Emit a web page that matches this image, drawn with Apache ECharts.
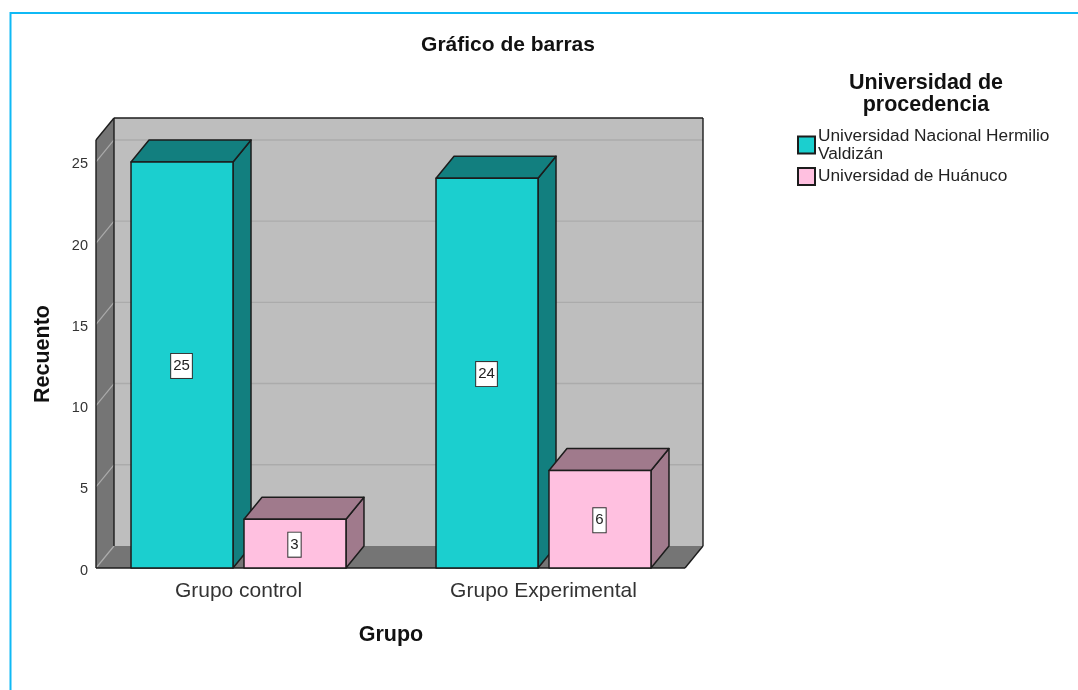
<!DOCTYPE html>
<html><head><meta charset="utf-8">
<style>html,body{margin:0;padding:0;background:#fff}#c{width:1078px;height:690px;filter:blur(0.4px)}</style>
<script src="https://cdn.jsdelivr.net/npm/echarts@6/dist/echarts.min.js"></script>
</head><body><div id="c"></div>
<script>
const categories = ['Grupo control', 'Grupo Experimental'];
const seriesNames = ['Universidad Nacional Hermilio\nValdizán', 'Universidad de Huánuco'];
const valuesUNHEVAL = [25, 24];
const valuesHuanuco = [3, 6];
const yTicks = [5, 10, 15, 20, 25];
const yMax = 26.35;

const FONT = '"Liberation Sans", Arial, sans-serif';
const DX = 18, DY = -22;
const INK = '#1c1c1c';
const chart = echarts.init(document.getElementById('c'), null, {renderer: 'canvas'});

function poly(points, fill, z2) {
  return {type: 'polygon', z2: z2 || 0, shape: {points},
    style: {fill, stroke: null}};
}
function seg(a, b, stroke, lineWidth, z2) {
  return {type: 'line', z2: z2 || 1, shape: {x1: a[0], y1: a[1], x2: b[0], y2: b[1]},
    style: {stroke, lineWidth: lineWidth || 1.4}};
}

function renderWalls(params, api) {
  if (params.dataIndex !== 0) return null;
  const cs = params.coordSys;
  const l = cs.x + 10, r = cs.x + cs.width - 11;
  const b = api.coord([0, 0])[1], t = api.coord([0, yMax])[1];
  const kids = [
    poly([[l + DX, t + DY], [r + DX, t + DY], [r + DX, b + DY], [l + DX, b + DY]], '#bebebe'),
    poly([[l, t], [l + DX, t + DY], [l + DX, b + DY], [l, b]], '#757575'),
    poly([[l, b], [r, b], [r + DX, b + DY], [l + DX, b + DY]], '#757575')
  ];
  yTicks.forEach(v => {
    const y = api.coord([0, v])[1];
    kids.push(seg([l + DX, y + DY], [r + DX, y + DY], '#ababab', 1.4));
    kids.push(seg([l, y], [l + DX, y + DY], '#ababab', 1.2));
  });
  kids.push(seg([l, b], [l + DX, b + DY], '#ababab', 1.2));
  [
    [[l, b], [l, t]], [[l, t], [l + DX, t + DY]], [[l + DX, t + DY], [r + DX, t + DY]],
    [[l + DX, t + DY], [l + DX, b + DY]], [[r + DX, t + DY], [r + DX, b + DY]],
    [[r + DX, b + DY], [r, b]], [[r, b], [l, b]]
  ].forEach(p => kids.push(seg(p[0], p[1], INK, 1.4, 2)));
  return {type: 'group', children: kids};
}

function makeBar(front, top, side, offset) {
  return function (params, api) {
    const cat = api.value(0), val = api.value(1);
    const base = api.coord([cat, 0]);
    const head = api.coord([cat, val]);
    const band = api.size([1, 0])[0];
    const w = band * 0.3344;
    const cx = base[0] + band * offset;
    const x0 = cx - w / 2, x1 = cx + w / 2, y0 = base[1], y1 = head[1];
    const stroke = {stroke: INK, lineWidth: 1.5, lineJoin: 'round'};
    return {type: 'group', children: [
      {type: 'polygon', shape: {points: [[x1, y1], [x1 + DX, y1 + DY], [x1 + DX, y0 + DY], [x1, y0]]},
        style: Object.assign({fill: side}, stroke)},
      {type: 'polygon', shape: {points: [[x0, y1], [x0 + DX, y1 + DY], [x1 + DX, y1 + DY], [x1, y1]]},
        style: Object.assign({fill: top}, stroke)},
      {type: 'rect', shape: {x: x0, y: y1, width: w, height: y0 - y1},
        style: Object.assign({fill: front}, stroke)},
      {type: 'text', z2: 5, x: cx - 0.5, y: (y0 + y1) / 2 + 1,
        style: {text: String(val), x: 0, y: 0, align: 'center', verticalAlign: 'middle',
          font: '15px ' + FONT, fill: '#222', backgroundColor: '#fff',
          borderColor: '#333', borderWidth: 1, padding: [5, 2, 4, 2]}}
    ]};
  };
}

chart.setOption({
  animation: false,
  backgroundColor: '#fff',
  title: [
    {text: 'Gráfico de barras', left: 508, top: 35, padding: 0, textAlign: 'center',
      textStyle: {fontFamily: FONT, fontSize: 21, fontWeight: 'bold', color: '#111'}},
    {text: 'Universidad de\nprocedencia', left: 926, top: 71.5, padding: 0, textAlign: 'center',
      textStyle: {fontFamily: FONT, fontSize: 21.5, fontWeight: 'bold', color: '#111', lineHeight: 22.5}}
  ],
  legend: {
    orient: 'vertical', left: 797, top: 125, itemWidth: 17, itemHeight: 17, itemGap: 0.5,
    padding: 0, selectedMode: false, icon: 'rect',
    data: seriesNames,
    textStyle: {fontFamily: FONT, fontSize: 17.3, color: '#222', lineHeight: 18, padding: [4, 0, 0, -2]}
  },
  grid: {left: 86, width: 610, top: 140, height: 428},
  xAxis: {
    type: 'category', data: categories,
    axisLine: {show: false}, axisTick: {show: false},
    axisLabel: {fontFamily: FONT, fontSize: 21, color: '#333', margin: 13},
    name: 'Grupo', nameLocation: 'middle', nameGap: 56,
    nameTextStyle: {fontFamily: FONT, fontSize: 21.5, fontWeight: 'bold', color: '#111'}
  },
  yAxis: {
    type: 'value', min: 0, max: yMax, interval: 5,
    offset: -10,
    axisLine: {show: false}, axisTick: {show: false}, splitLine: {show: false},
    axisLabel: {fontFamily: FONT, fontSize: 14.5, color: '#333', margin: 8, showMaxLabel: false,
      verticalAlign: 'top', lineHeight: 5},
    name: 'Recuento', nameLocation: 'middle', nameGap: 42, nameRotate: 90,
    nameTextStyle: {fontFamily: FONT, fontSize: 21.5, fontWeight: 'bold', color: '#111'}
  },
  series: [
    {type: 'custom', name: 'walls', silent: true, z: 1, renderItem: renderWalls,
      data: [[0, 0]], encode: {x: 0, y: 1}, clip: false},
    {type: 'custom', name: seriesNames[0], z: 2, clip: false,
      itemStyle: {color: '#1bcfcf', borderColor: '#1c1c1c', borderWidth: 1.5},
      renderItem: makeBar('#1bcfcf', '#127f7f', '#127f7f', -0.1852),
      encode: {x: 0, y: 1},
      data: valuesUNHEVAL.map((v, i) => [i, v])},
    {type: 'custom', name: seriesNames[1], z: 3, clip: false,
      itemStyle: {color: '#ffc0e0', borderColor: '#1c1c1c', borderWidth: 1.5},
      renderItem: makeBar('#ffc0e0', '#a07a8c', '#a07a8c', 0.1852),
      encode: {x: 0, y: 1},
      data: valuesHuanuco.map((v, i) => [i, v])}
  ],
  graphic: [{type: 'polyline', silent: true, z: 10,
    shape: {points: [[10.5, 690], [10.5, 13], [1078, 13]]},
    style: {stroke: '#0fb9f5', lineWidth: 2, fill: null}}]
});
</script></body></html>
